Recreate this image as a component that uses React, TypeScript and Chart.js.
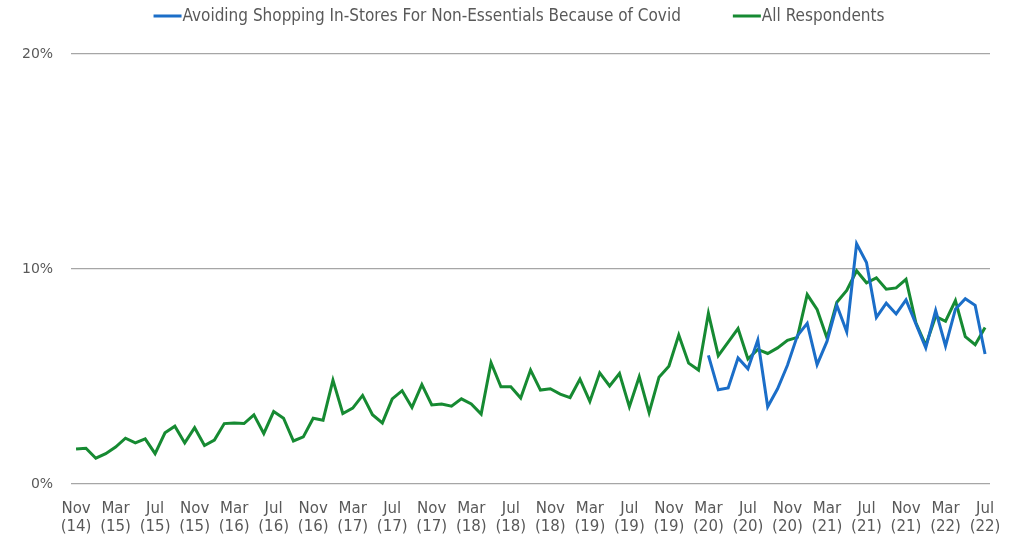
import React, { useEffect, useRef } from "react";
import { Chart, registerables } from "chart.js";

Chart.register(...registerables);

const categories: string[] = [
  "Nov-14", "Dec-14",
  "Jan-15", "Feb-15", "Mar-15", "Apr-15", "May-15", "Jun-15", "Jul-15", "Aug-15", "Sep-15", "Oct-15", "Nov-15", "Dec-15",
  "Jan-16", "Feb-16", "Mar-16", "Apr-16", "May-16", "Jun-16", "Jul-16", "Aug-16", "Sep-16", "Oct-16", "Nov-16", "Dec-16",
  "Jan-17", "Feb-17", "Mar-17", "Apr-17", "May-17", "Jun-17", "Jul-17", "Aug-17", "Sep-17", "Oct-17", "Nov-17", "Dec-17",
  "Jan-18", "Feb-18", "Mar-18", "Apr-18", "May-18", "Jun-18", "Jul-18", "Aug-18", "Sep-18", "Oct-18", "Nov-18", "Dec-18",
  "Jan-19", "Feb-19", "Mar-19", "Apr-19", "May-19", "Jun-19", "Jul-19", "Aug-19", "Sep-19", "Oct-19", "Nov-19", "Dec-19",
  "Jan-20", "Feb-20", "Mar-20", "Apr-20", "May-20", "Jun-20", "Jul-20", "Aug-20", "Sep-20", "Oct-20", "Nov-20", "Dec-20",
  "Jan-21", "Feb-21", "Mar-21", "Apr-21", "May-21", "Jun-21", "Jul-21", "Aug-21", "Sep-21", "Oct-21", "Nov-21", "Dec-21",
  "Jan-22", "Feb-22", "Mar-22", "Apr-22", "May-22", "Jun-22", "Jul-22",
];

// All Respondents (%), Nov 2014 – Jul 2022
const allRespondents: number[] = [
  1.63, 1.66,
  1.20, 1.41, 1.72, 2.13, 1.91, 2.10, 1.41, 2.38, 2.69, 1.91, 2.62, 1.79,
  2.04, 2.81, 2.84, 2.81, 3.22, 2.35, 3.37, 3.06, 2.00, 2.19, 3.06, 2.97,
  4.83, 3.28, 3.53, 4.12, 3.22, 2.84, 3.96, 4.34, 3.56, 4.62, 3.68, 3.72,
  3.62, 3.96, 3.72, 3.25, 5.64, 4.52, 4.52, 4.00, 5.30, 4.37, 4.43, 4.18,
  4.02, 4.88, 3.84, 5.17, 4.56, 5.14, 3.59, 4.99, 3.32, 4.97, 5.48, 6.93,
  5.62, 5.30, 7.94, 5.97, 6.60, 7.23, 5.81, 6.26, 6.07, 6.33, 6.68, 6.82,
  8.81, 8.12, 6.79, 8.45, 9.00, 9.92, 9.36, 9.59, 9.06, 9.12, 9.52, 7.50,
  6.45, 7.80, 7.57, 8.53, 6.85, 6.48, 7.28,
];

// Avoiding Shopping In-Stores For Non-Essentials Because of Covid (%), starts Mar 2020
const avoidingShopping: (number | null)[] = [
  null, null,
  null, null, null, null, null, null, null, null, null, null, null, null,
  null, null, null, null, null, null, null, null, null, null, null, null,
  null, null, null, null, null, null, null, null, null, null, null, null,
  null, null, null, null, null, null, null, null, null, null, null, null,
  null, null, null, null, null, null, null, null, null, null, null, null,
  null, null, 5.98, 4.38, 4.47, 5.86, 5.36, 6.70, 3.59, 4.43, 5.52, 6.89,
  7.47, 5.55, 6.63, 8.31, 7.08, 11.17, 10.30, 7.75, 8.41, 7.91, 8.56, 7.45,
  6.33, 8.07, 6.42, 8.13, 8.62, 8.31, 6.05,
];

const seriesNames: string[] = [
  "Avoiding Shopping In-Stores For Non-Essentials Because of Covid",
  "All Respondents",
];

const yTicks: number[] = [0, 10, 20];

const BLUE = "#1b6ec8";
const GREEN = "#168a32";
const TEXT = "#595959";
const TICK_FONT = "'DejaVu Sans', Verdana, sans-serif";
const LEGEND_FONT = "'DejaVu Sans Condensed', 'DejaVu Sans', sans-serif";

const legendPlugin = {
  id: "customLegend",
  afterDraw(chart: any) {
    const ctx = chart.ctx as CanvasRenderingContext2D;
    ctx.save();
    ctx.font = `17px ${LEGEND_FONT}`;
    ctx.textBaseline = "middle";
    ctx.textAlign = "left";
    const items = chart.data.datasets.map((ds: any) => ({
      text: ds.label as string,
      color: ds.borderColor as string,
    }));
    const markerW = 28;
    const gap = 1;
    const itemGap = 52;
    const widths = items.map((it: any) => markerW + gap + ctx.measureText(it.text).width);
    const total = widths.reduce((a: number, b: number) => a + b, 0) + itemGap * (items.length - 1);
    let x = (chart.width - total) / 2 + 13;
    const y = 16;
    items.forEach((it: any, i: number) => {
      ctx.fillStyle = it.color;
      ctx.fillRect(x, y - 1.5, markerW, 3);
      ctx.fillStyle = TEXT;
      ctx.fillText(it.text, x + markerW + gap, y + 0.5);
      x += widths[i] + itemGap;
    });
    ctx.restore();
  },
};

export default function App() {
  const canvasRef = useRef<HTMLCanvasElement | null>(null);

  useEffect(() => {
    if (!canvasRef.current) return;
    const chart = new Chart(canvasRef.current, {
      type: "line",
      data: {
        labels: categories,
        datasets: [
          {
            label: seriesNames[0],
            data: avoidingShopping,
            borderColor: BLUE,
            backgroundColor: BLUE,
            borderWidth: 3,
            pointRadius: 0,
            tension: 0,
            spanGaps: false,
          },
          {
            label: seriesNames[1],
            data: allRespondents,
            borderColor: GREEN,
            backgroundColor: GREEN,
            borderWidth: 3,
            pointRadius: 0,
            tension: 0,
          },
        ],
      },
      options: {
        responsive: false,
        animation: false,
        events: [],
        layout: { padding: { top: 54, left: 4, right: 22, bottom: -12 } },
        plugins: {
          legend: { display: false },
          tooltip: { enabled: false },
        },
        scales: {
          x: {
            type: "category",
            offset: true,
            grid: { display: false, drawTicks: false },
            border: { display: false },
            afterFit: (scale: any) => {
              scale.paddingRight = 0;
              scale.paddingLeft = 0;
            },
            ticks: {
              autoSkip: false,
              maxRotation: 0,
              minRotation: 0,
              padding: 16,
              color: TEXT,
              font: { family: TICK_FONT, size: 15, lineHeight: 1.2 },
              callback: (_v: any, index: number) => {
                if (index % 4 !== 0) return null;
                const [mon, yr] = categories[index].split("-");
                return [mon, `(${yr})`];
              },
            },
          },
          y: {
            min: yTicks[0],
            max: yTicks[yTicks.length - 1],
            afterBuildTicks: (axis: any) => {
              axis.ticks = yTicks.map((v) => ({ value: v }));
            },
            grid: { color: "#a6a6a6", lineWidth: 1.3, drawTicks: false },
            border: { display: false },
            ticks: {
              padding: 18,
              color: TEXT,
              font: { family: TICK_FONT, size: 14 },
              callback: (v: any) => `${v}%`,
            },
          },
        },
      },
      plugins: [legendPlugin],
    });
    return () => chart.destroy();
  }, []);

  return (
    <div style={{ position: "absolute", left: 0, top: 0, width: 1012, height: 540, background: "#fff" }}>
      <canvas ref={canvasRef} width={1012} height={540} style={{ width: 1012, height: 540 }} />
    </div>
  );
}
